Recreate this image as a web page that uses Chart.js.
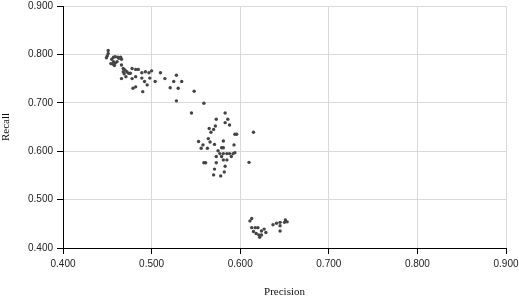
<!DOCTYPE html>
<html>
<head>
<meta charset="utf-8">
<script src="https://cdn.jsdelivr.net/npm/chart.js@4/dist/chart.umd.min.js"></script>
<style>
  html, body { margin: 0; padding: 0; background: #fff; }
  #wrap { width: 519px; height: 299px; }
</style>
</head>
<body>
<div id="wrap"><canvas id="prChart"></canvas></div>
<script>
// Precision / Recall scatter

const xTicks = [0.4, 0.5, 0.6, 0.7, 0.8, 0.9];
const yTicks = [0.4, 0.5, 0.6, 0.7, 0.8, 0.9];

// upper-left group
const groupA = [
    [0.451, 0.808], [0.451, 0.802], [0.450, 0.797], [0.449, 0.793],
    [0.455, 0.790], [0.457, 0.794], [0.459, 0.795], [0.457, 0.785],
    [0.459, 0.782], [0.461, 0.785], [0.456, 0.780], [0.463, 0.792],
    [0.466, 0.790], [0.466, 0.778], [0.468, 0.771], [0.470, 0.768],
    [0.472, 0.764], [0.468, 0.764], [0.469, 0.760], [0.474, 0.761],
    [0.471, 0.754], [0.478, 0.771], [0.482, 0.769], [0.485, 0.769],
    [0.476, 0.761], [0.482, 0.754], [0.489, 0.762], [0.493, 0.764],
    [0.497, 0.762], [0.500, 0.766], [0.489, 0.751], [0.492, 0.744],
    [0.495, 0.737], [0.482, 0.733], [0.498, 0.751], [0.466, 0.750],
    [0.478, 0.750], [0.479, 0.730], [0.490, 0.723], [0.504, 0.744],
    [0.510, 0.762], [0.515, 0.750], [0.528, 0.757], [0.525, 0.744],
    [0.534, 0.744], [0.521, 0.731], [0.530, 0.730], [0.548, 0.724],
    [0.528, 0.704], [0.559, 0.699], [0.545, 0.679], [0.454, 0.781],
    [0.458, 0.777], [0.462, 0.794], [0.465, 0.794]
];

// middle group
const groupB = [
    [0.583, 0.679], [0.573, 0.666], [0.586, 0.666], [0.583, 0.659],
    [0.588, 0.654], [0.572, 0.652], [0.565, 0.647], [0.570, 0.645],
    [0.567, 0.639], [0.594, 0.635], [0.596, 0.635], [0.615, 0.639],
    [0.564, 0.626], [0.566, 0.619], [0.581, 0.621], [0.553, 0.620],
    [0.558, 0.613], [0.571, 0.614], [0.593, 0.613], [0.556, 0.606],
    [0.563, 0.606], [0.579, 0.607], [0.581, 0.607], [0.575, 0.601],
    [0.577, 0.595], [0.581, 0.595], [0.585, 0.595], [0.588, 0.595],
    [0.592, 0.595], [0.594, 0.597], [0.579, 0.589], [0.573, 0.589],
    [0.581, 0.582], [0.585, 0.582], [0.590, 0.589], [0.559, 0.576],
    [0.561, 0.576], [0.573, 0.576], [0.610, 0.577], [0.583, 0.569],
    [0.571, 0.563], [0.582, 0.557], [0.570, 0.551], [0.578, 0.549]
];

// lower group
const groupC = [
    [0.613, 0.461], [0.611, 0.456], [0.613, 0.442], [0.617, 0.442],
    [0.620, 0.442], [0.615, 0.434], [0.618, 0.430], [0.621, 0.427],
    [0.622, 0.422], [0.624, 0.435], [0.627, 0.439], [0.629, 0.432],
    [0.624, 0.427], [0.637, 0.448], [0.641, 0.451], [0.645, 0.453],
    [0.645, 0.446], [0.651, 0.458], [0.653, 0.454], [0.650, 0.453],
    [0.645, 0.435]
];

const points = groupA.concat(groupB, groupC).map(p => ({ x: p[0], y: p[1] }));

const tickFont = { family: 'Liberation Sans', size: 10 };
const titleFont = { family: 'Liberation Serif', size: 11 };

new Chart(document.getElementById('prChart'), {
    type: 'scatter',
    data: {
        datasets: [{
            data: points,
            backgroundColor: '#444',
            borderWidth: 0,
            pointRadius: 1.7,
            pointHoverRadius: 1.7
        }]
    },
    options: {
        responsive: true,
        maintainAspectRatio: false,
        animation: false,
        layout: { padding: { left: 0, right: 13, top: 6, bottom: 0 } },
        plugins: {
            legend: { display: false },
            tooltip: { enabled: false }
        },
        scales: {
            x: {
                type: 'linear',
                min: xTicks[0],
                max: xTicks[xTicks.length - 1],
                afterBuildTicks: s => { s.ticks = xTicks.map(v => ({ value: v })); },
                afterFit: s => {
                    s.height = 51;
                    s.paddingLeft = 0;
                    s.paddingRight = 0;
                },
                grid: { color: '#d9d9d9', tickColor: '#000', tickLength: 6 },
                border: { color: '#000', width: 1 },
                ticks: {
                    color: '#222',
                    font: tickFont,
                    padding: 4,
                    maxRotation: 0,
                    callback: v => v.toFixed(3)
                },
                title: {
                    display: true,
                    text: 'Precision',
                    color: '#111',
                    font: titleFont,
                    padding: { top: 0, bottom: 0 }
                }
            },
            y: {
                type: 'linear',
                min: yTicks[0],
                max: yTicks[yTicks.length - 1],
                afterBuildTicks: s => { s.ticks = yTicks.map(v => ({ value: v })); },
                afterFit: s => {
                    s.width = 63;
                    s.paddingTop = 0;
                    s.paddingBottom = 0;
                },
                grid: { color: '#d9d9d9', tickColor: '#000', tickLength: 6 },
                border: { color: '#000', width: 1 },
                ticks: {
                    color: '#222',
                    font: tickFont,
                    padding: 4,
                    callback: v => v.toFixed(3)
                },
                title: {
                    display: true,
                    text: 'Recall',
                    color: '#111',
                    font: titleFont,
                    padding: { top: 0, bottom: 0 }
                }
            }
        }
    }
});
</script>
</body>
</html>
